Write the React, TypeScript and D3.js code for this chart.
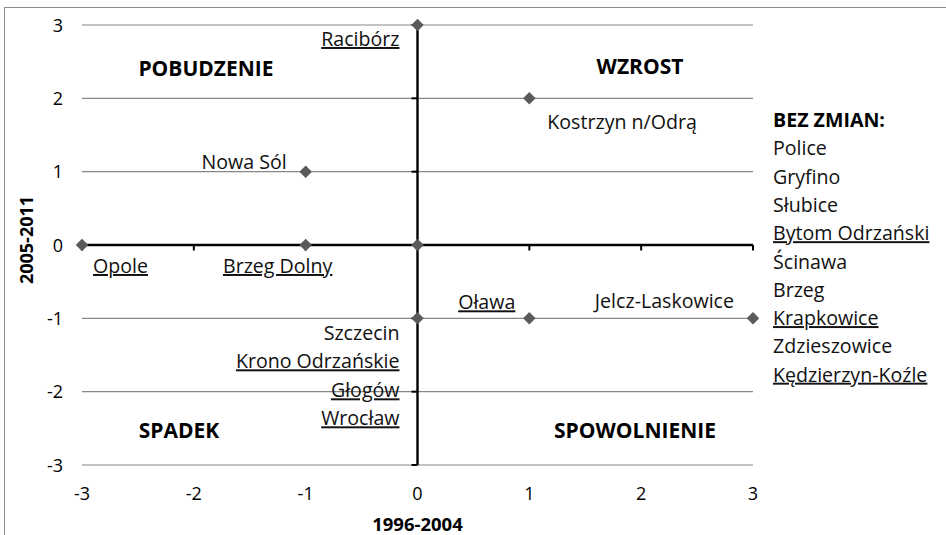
import React from "react";
import * as d3 from "d3";

// ---- data ----
const pointX = [-3, -1, 0, 0, 1, -1, 0, 1, 3];
const pointY = [0, 0, 0, 3, 2, 1, -1, -1, -1];

const xTicks = [-3, -2, -1, 0, 1, 2, 3];
const yTicks = [-3, -2, -1, 0, 1, 2, 3];

const labelTexts = [
  "Racibórz",
  "Kostrzyn n/Odrą",
  "Nowa Sól",
  "Opole",
  "Brzeg Dolny",
  "Oława",
  "Jelcz-Laskowice",
  "Szczecin",
  "Krono Odrzańskie",
  "Głogów",
  "Wrocław",
];
const labelPoint = [3, 4, 5, 0, 1, 7, 8, 6, 6, 6, 6];
const labelUnderline = [true, false, false, true, true, true, false, false, true, true, true];

const quadrantNames = ["POBUDZENIE", "WZROST", "SPADEK", "SPOWOLNIENIE"];

const unchangedTitle = "BEZ ZMIAN:";
const unchangedTowns = [
  "Police",
  "Gryfino",
  "Słubice",
  "Bytom Odrzański",
  "Ścinawa",
  "Brzeg",
  "Krapkowice",
  "Zdzieszowice",
  "Kędzierzyn-Koźle",
];
const unchangedUnderline = [false, false, false, true, false, false, true, false, true];

const xTitle = "1996-2004";
const yTitle = "2005-2011";

// ---- layout ----
const W = 946;
const H = 535;
const FONT = "'Open Sans', Lato, sans-serif";
const LABEL_SIZE = 19.6;
const labelLayout = [
  { anchor: "end", dx: -18, dy: 21 },
  { anchor: "start", dx: 18, dy: 31 },
  { anchor: "end", dx: -19, dy: -3 },
  { anchor: "start", dx: 11, dy: 28 },
  { anchor: "middle", dx: -28, dy: 28 },
  { anchor: "end", dx: -14, dy: -9 },
  { anchor: "end", dx: -19, dy: -10 },
  { anchor: "end", dx: -18, dy: 22 },
  { anchor: "end", dx: -18, dy: 50 },
  { anchor: "end", dx: -18, dy: 79 },
  { anchor: "end", dx: -18, dy: 107 },
];
const quadrantLayout = [
  { x: 206, y: 76 },
  { x: 640, y: 74 },
  { x: 179, y: 438 },
  { x: 635, y: 438 },
];

export default function App() {
  const x = d3.scaleLinear().domain([-3, 3]).range([82, 753]);
  const y = d3.scaleLinear().domain([-3, 3]).range([465, 25]);
  const x0 = x(0);
  const y0 = y(0);
  const diamond = d3.symbol().type(d3.symbolDiamond2).size(100)();

  return (
    <svg
      width={W}
      height={H}
      style={{ position: "absolute", left: 0, top: 0, background: "#fff" }}
      fontFamily={FONT}
    >
      <rect x={4.5} y={7.5} width={1200} height={1200} fill="#fff" stroke="#8c8c8c" strokeWidth={1} />

      {/* gridlines */}
      {yTicks
        .filter((t) => t !== 0)
        .map((t) => (
          <line key={"g" + t} x1={x(-3)} x2={x(3)} y1={y(t)} y2={y(t)} stroke="#878787" strokeWidth={1.2} />
        ))}

      {/* axes */}
      <line x1={x(-3)} x2={x(3)} y1={y0} y2={y0} stroke="#000" strokeWidth={2.4} />
      <line x1={x0} x2={x0} y1={y(3)} y2={y(-3)} stroke="#000" strokeWidth={2.4} />
      {xTicks.map((t) => (
        <line key={"xt" + t} x1={x(t)} x2={x(t)} y1={y0} y2={y0 + 5.5} stroke="#000" strokeWidth={2} />
      ))}
      {yTicks.map((t) => (
        <line key={"yt" + t} x1={x0 - 6} x2={x0} y1={y(t)} y2={y(t)} stroke="#000" strokeWidth={2} />
      ))}

      {/* tick labels */}
      {xTicks.map((t) => (
        <text key={"xl" + t} x={x(t)} y={500} textAnchor="middle" fontSize={18} fill="#000">
          {t}
        </text>
      ))}
      {yTicks.map((t) => (
        <text key={"yl" + t} x={63} y={y(t) + 6.5} textAnchor="end" fontSize={18} fill="#000">
          {t}
        </text>
      ))}

      {/* axis titles */}
      <text x={x0} y={531} textAnchor="middle" fontSize={18.5} fontWeight="bold" fill="#000">
        {xTitle}
      </text>
      <text
        transform={`translate(33,240) rotate(-90)`}
        textAnchor="middle"
        fontSize={18}
        fontWeight="bold"
        fill="#000"
      >
        {yTitle}
      </text>

      {/* quadrant names */}
      {quadrantNames.map((q, i) => (
        <text
          key={q}
          x={quadrantLayout[i].x}
          y={quadrantLayout[i].y}
          textAnchor="middle"
          fontSize={21}
          fontWeight="bold"
          fill="#000"
        >
          {q}
        </text>
      ))}

      {/* points */}
      {pointX.map((px, i) => (
        <path key={"p" + i} d={diamond} transform={`translate(${x(px)},${y(pointY[i])})`} fill="#5a5a5a" />
      ))}

      {/* point labels */}
      {labelTexts.map((t, i) => {
        const p = labelPoint[i];
        const l = labelLayout[i];
        return (
          <text
            key={"l" + i}
            x={x(pointX[p]) + l.dx}
            y={y(pointY[p]) + l.dy}
            textAnchor={l.anchor}
            fontSize={LABEL_SIZE}
            fill="#111"
            style={{ textDecoration: labelUnderline[i] ? "underline" : "none" }}
          >
            {t}
          </text>
        );
      })}

      {/* unchanged list */}
      <text x={773} y={127} fontSize={19.6} fontWeight="bold" fill="#000">
        {unchangedTitle}
      </text>
      {unchangedTowns.map((t, i) => (
        <text
          key={"u" + i}
          x={773}
          y={155.3 + i * 28.3}
          fontSize={LABEL_SIZE}
          fill="#111"
          style={{ textDecoration: unchangedUnderline[i] ? "underline" : "none" }}
        >
          {t}
        </text>
      ))}
    </svg>
  );
}
